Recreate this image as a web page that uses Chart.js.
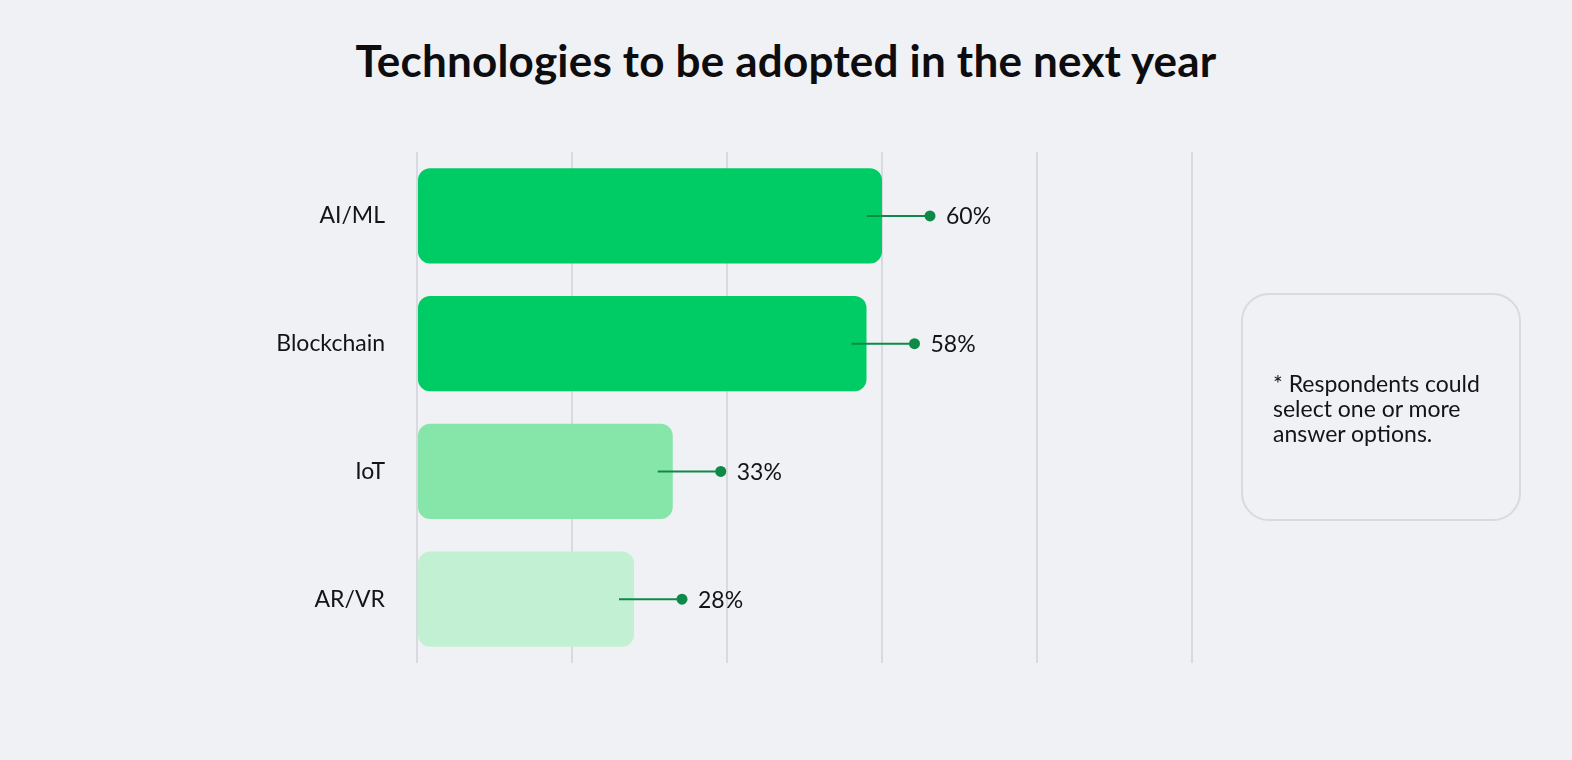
<!DOCTYPE html>
<html>
<head>
<meta charset="utf-8">
<script src="https://cdn.jsdelivr.net/npm/chart.js@4"></script>
<style>
  html, body { margin: 0; padding: 0; background: #f0f1f4; }
  body { width: 1572px; height: 760px; position: relative; overflow: hidden; font-family: Lato, "Open Sans", sans-serif; }
  #titulo { position: absolute; left: 0; top: 34px; width: 1572px; text-align: center; margin: 0;
    font-size: 44px; font-weight: 700; color: #0d0d0f; letter-spacing: 0.2px; }
  #chartBox { position: absolute; left: 0; top: 0; width: 1572px; height: 760px; }
  #nota { position: absolute; left: 1241px; top: 293px; width: 280px; height: 228px; box-sizing: border-box;
    border: 2px solid #d9dadd; border-radius: 28px; padding: 76px 0 0 30px;
    font-size: 23px; line-height: 25px; color: #141416; }
</style>
</head>
<body>
<h1 id="titulo">Technologies to be adopted in the next year</h1>
<div id="chartBox"><canvas id="techChart"></canvas></div>
<div id="nota">* Respondents could<br>select one or more<br>answer options.</div>
<script>
const categorias = ['AI/ML', 'Blockchain', 'IoT', 'AR/VR'];
const percentuais = [60, 58, 33, 28];
const coresBarras = ['#00cc66', '#00cc66', '#86e6a9', '#c1f1d2'];
const ticksX = [0, 20, 40, 60, 80, 100];

const corLinha = '#0e8a48';

// linha com ponto e rótulo depois de cada barra
const rotulosPlugin = {
  id: 'rotulos',
  afterDatasetsDraw(chart) {
    const ctx = chart.ctx;
    const meta = chart.getDatasetMeta(0);
    ctx.save();
    meta.data.forEach((bar, i) => {
      const x = bar.x;
      const y = bar.y;
      ctx.strokeStyle = corLinha;
      ctx.lineWidth = 2;
      ctx.beginPath();
      ctx.moveTo(x - 15, y);
      ctx.lineTo(x + 48, y);
      ctx.stroke();
      ctx.fillStyle = corLinha;
      ctx.beginPath();
      ctx.arc(x + 48, y, 5.5, 0, Math.PI * 2);
      ctx.fill();
      ctx.fillStyle = '#141416';
      ctx.font = '23px Lato, "Open Sans", sans-serif';
      ctx.textBaseline = 'middle';
      ctx.textAlign = 'left';
      ctx.fillText(percentuais[i] + '%', x + 64, y + 1);
    });
    ctx.restore();
  }
};

new Chart(document.getElementById('techChart'), {
  type: 'bar',
  data: {
    labels: categorias,
    datasets: [{
      data: percentuais,
      backgroundColor: coresBarras,
      borderRadius: 12,
      borderSkipped: false,
      barPercentage: 0.745,
      categoryPercentage: 1
    }]
  },
  options: {
    indexAxis: 'y',
    responsive: true,
    maintainAspectRatio: false,
    animation: false,
    layout: { padding: { left: 257, right: 380, top: 152, bottom: 97 } },
    plugins: { legend: { display: false }, tooltip: { enabled: false } },
    scales: {
      x: {
        min: 0,
        max: 100,
        afterBuildTicks: (s) => { s.ticks = ticksX.map(v => ({ value: v })); },
        ticks: { display: false },
        grid: { color: '#d8dadf', lineWidth: 2, drawTicks: false },
        border: { display: false }
      },
      y: {
        afterFit: (s) => { s.width = 160; },
        ticks: {
          padding: 32,
          color: '#141416',
          font: { family: 'Lato, "Open Sans", sans-serif', size: 23 }
        },
        grid: { display: false, drawTicks: false },
        border: { display: false }
      }
    }
  },
  plugins: [rotulosPlugin]
});
</script>
</body>
</html>
